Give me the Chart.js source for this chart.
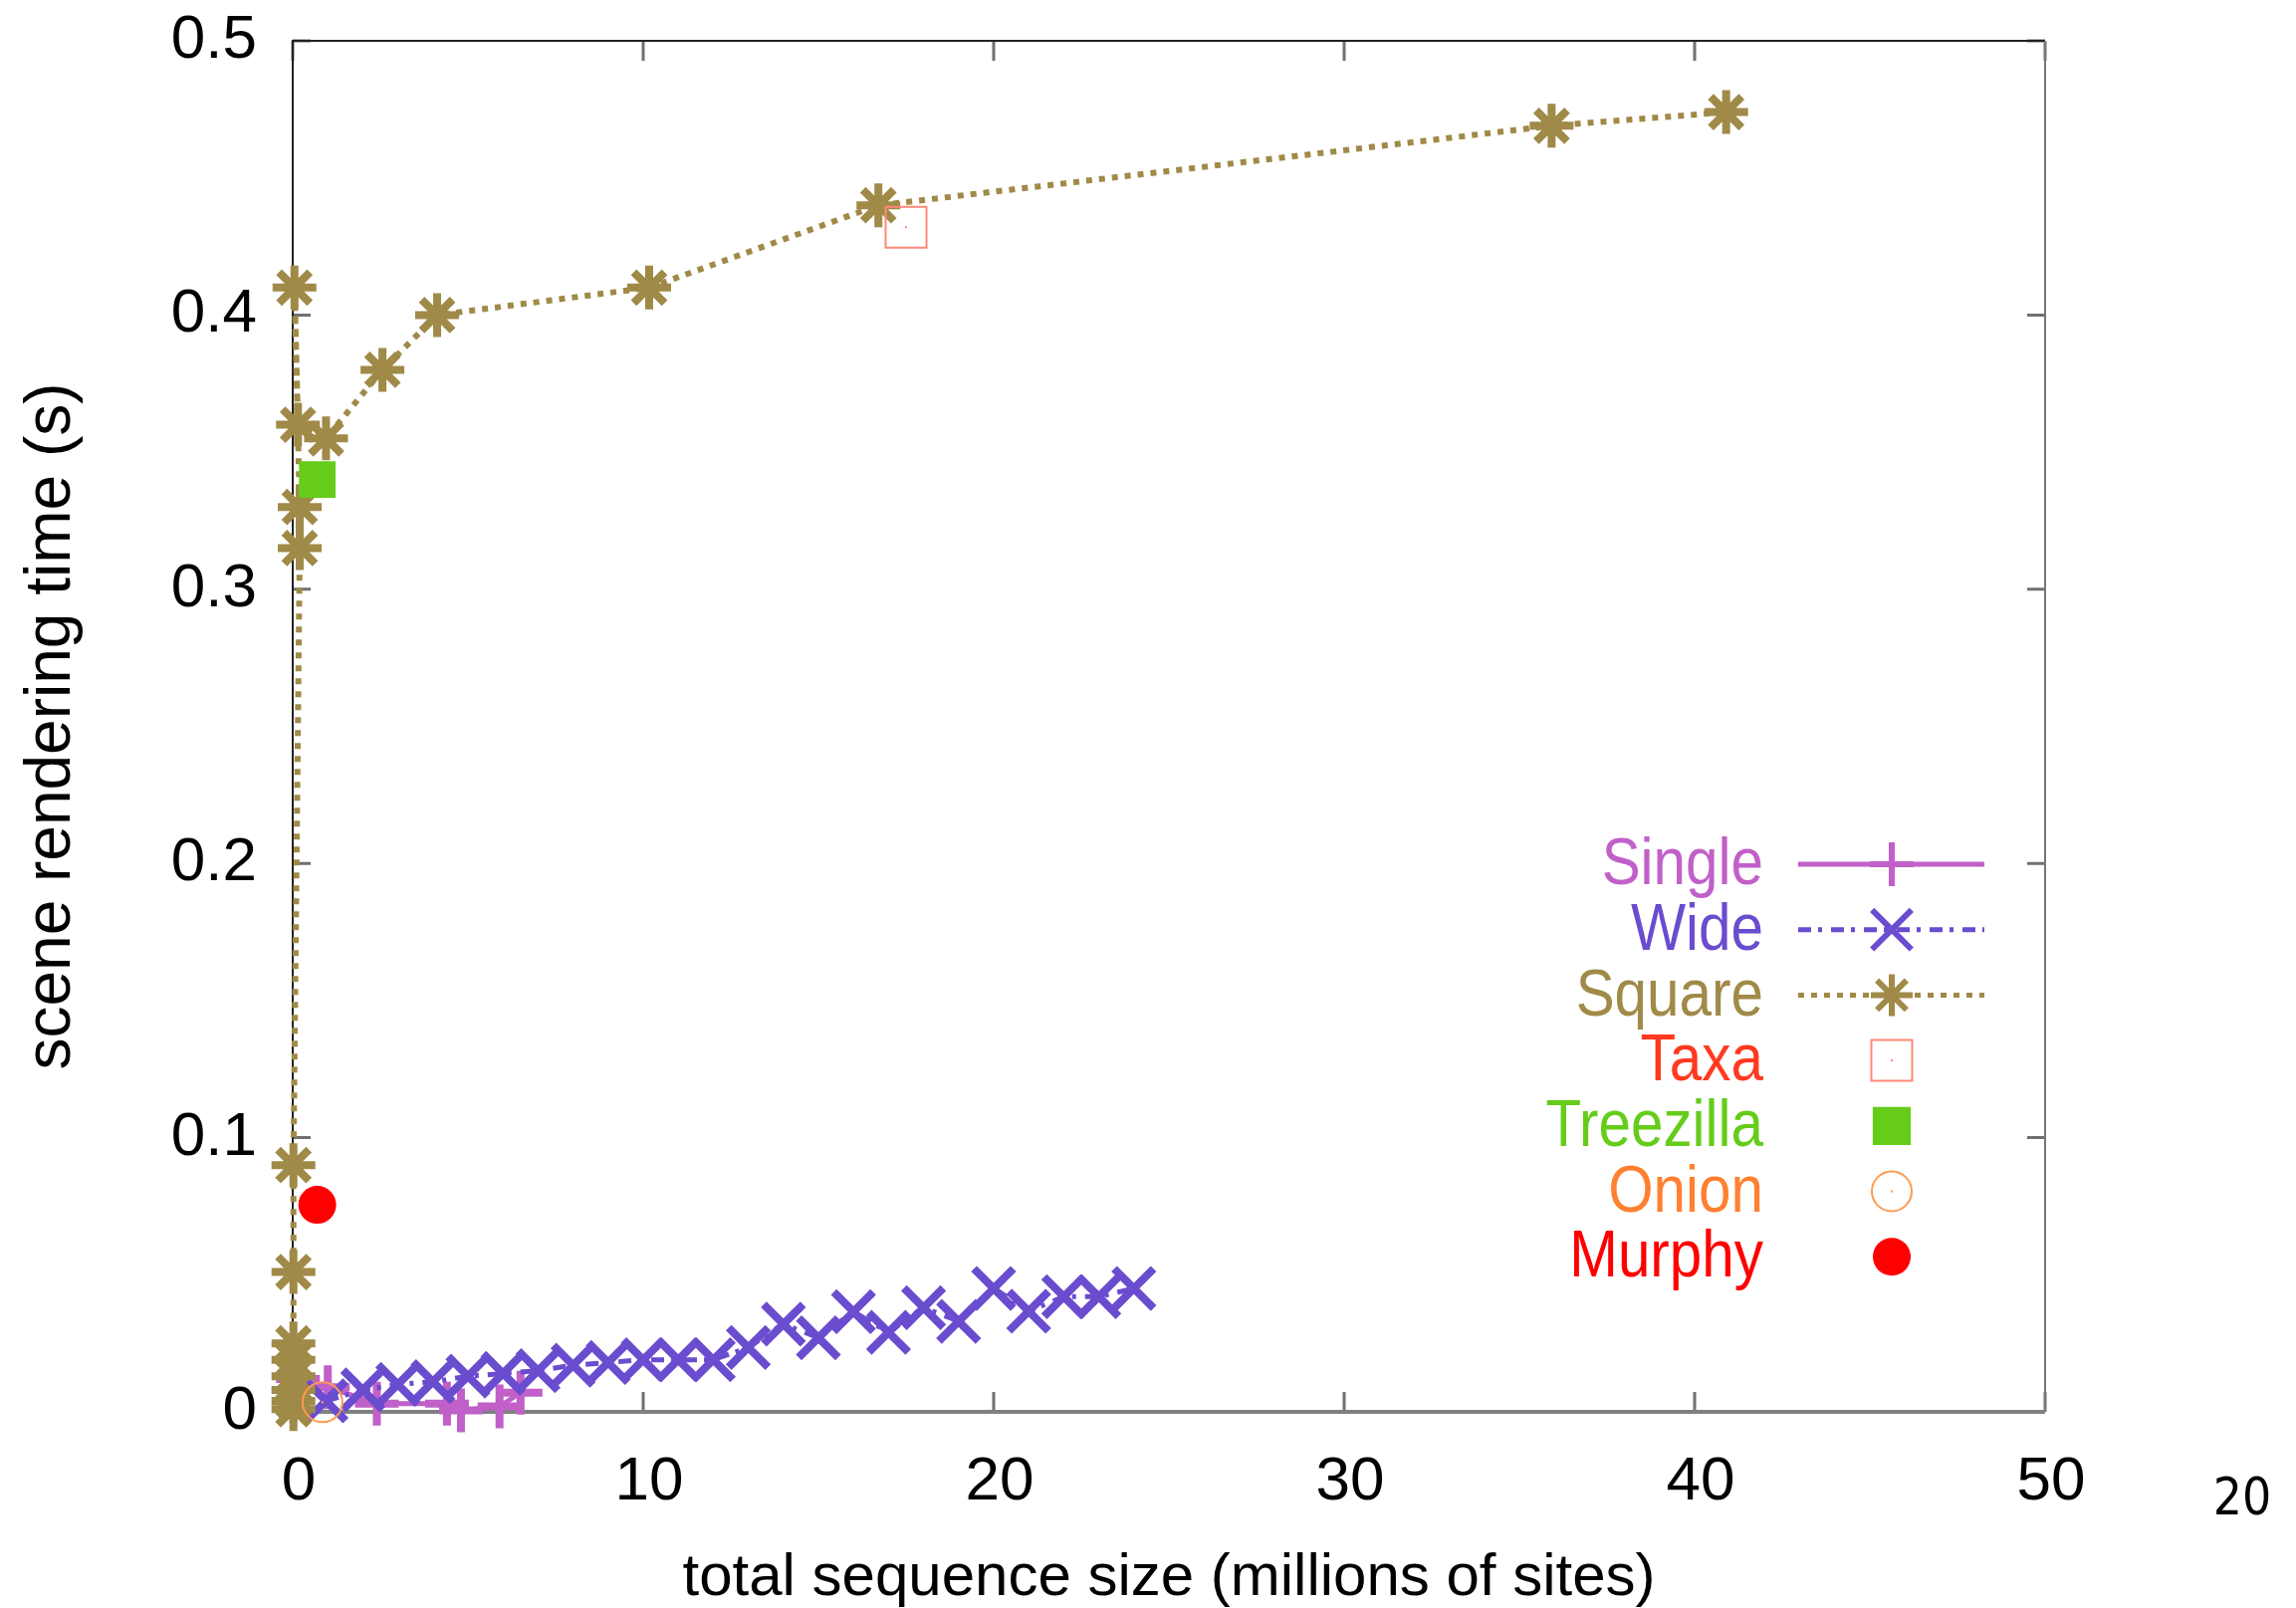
<!DOCTYPE html>
<html>
<head>
<meta charset="utf-8">
<script src="https://cdn.jsdelivr.net/npm/chart.js@4.4.1/dist/chart.umd.min.js"></script>
<style>
  html, body { margin: 0; padding: 0; background: #fff; }
  #wrap { width: 2306px; height: 1615px; }
</style>
</head>
<body>
<div id="wrap"><canvas id="renderChart" width="2306" height="1615"></canvas></div>
<script>
// values (x: millions of sites, y: seconds)
const singleX = [0.15, 1.0, 2.4, 4.4, 4.8, 5.9, 6.5];
const singleY = [0.012, 0.009, 0.003, 0.003, 0.0005, 0.002, 0.007];

const wideX = [0.95, 2, 3, 4, 5, 6, 7, 8, 9, 10, 11, 12, 13, 14, 15, 16, 17, 18, 19, 20, 21, 22, 23, 24];
const wideY = [0.004, 0.008, 0.010, 0.011, 0.013, 0.014, 0.015, 0.017, 0.018, 0.019, 0.019, 0.019,
               0.0235, 0.032, 0.027, 0.0365, 0.029, 0.038, 0.033, 0.045, 0.0367, 0.042, 0.042, 0.045];

const squareX = [0.02, 0.02, 0.02, 0.02, 0.02, 0.02, 0.02, 0.02, 0.2, 0.2, 0.05, 0.15, 0.95, 2.56, 4.12, 10.17, 16.71, 35.92, 40.9];
const squareY = [0.001, 0.004, 0.008, 0.013, 0.019, 0.025, 0.051, 0.09, 0.315, 0.33, 0.41, 0.36, 0.355, 0.38, 0.40, 0.41, 0.44, 0.469, 0.474];

const taxaX = [17.5];      const taxaY = [0.432];
const treezillaX = [0.7];  const treezillaY = [0.34];
const onionX = [0.85];     const onionY = [0.0035];
const murphyX = [0.7];     const murphyY = [0.0755];

const xTickLabels = ['0', '10', '20', '30', '40', '50'];
const yTickLabels = ['0', '0.1', '0.2', '0.3', '0.4', '0.5'];

const legendNames = ['Single', 'Wide', 'Square', 'Taxa', 'Treezilla', 'Onion', 'Murphy'];
const legendTextColors = ['#c060c8', '#6a4ccf', '#a08a48', '#ff3a20', '#66cc1a', '#ff8030', '#ff0000'];

const FONT = "'Liberation Sans', Arial, sans-serif";

function pts(xs, ys) {
    return xs.map((x, i) => ({ x: x, y: ys[i] }));
}

// small marker painter for the hand-drawn legend
function drawMarker(ctx, style, x, y, r, color, fill) {
    ctx.save();
    ctx.strokeStyle = color;
    ctx.fillStyle = color;
    ctx.beginPath();
    if (style === 'cross' || style === 'star') {
        ctx.moveTo(x - r, y); ctx.lineTo(x + r, y);
        ctx.moveTo(x, y - r); ctx.lineTo(x, y + r);
    }
    if (style === 'crossRot' || style === 'star') {
        const d = r * Math.SQRT1_2;
        ctx.moveTo(x - d, y - d); ctx.lineTo(x + d, y + d);
        ctx.moveTo(x - d, y + d); ctx.lineTo(x + d, y - d);
    }
    if (style === 'rect') {
        const s = r * Math.SQRT1_2;
        ctx.rect(x - s, y - s, 2 * s, 2 * s);
    }
    if (style === 'circle') {
        ctx.arc(x, y, r, 0, Math.PI * 2);
    }
    if (fill) ctx.fill(); else ctx.stroke();
    ctx.restore();
}

const framePlugin = {
    id: 'frame',
    beforeDatasetsDraw(chart) {
        const { ctx, chartArea: a, scales } = chart;
        ctx.save();
        // ticks pointing inward on all four sides
        ctx.strokeStyle = '#707070';
        ctx.lineWidth = 3;
        ctx.beginPath();
        scales.x.ticks.forEach(t => {
            const px = scales.x.getPixelForValue(t.value);
            ctx.moveTo(px, a.bottom); ctx.lineTo(px, a.bottom - 20);
            ctx.moveTo(px, a.top); ctx.lineTo(px, a.top + 20);
        });
        scales.y.ticks.forEach(t => {
            const py = scales.y.getPixelForValue(t.value);
            ctx.moveTo(a.left, py); ctx.lineTo(a.left + 18, py);
            ctx.moveTo(a.right, py); ctx.lineTo(a.right - 18, py);
        });
        ctx.stroke();
        // border
        ctx.strokeStyle = '#222';
        ctx.lineWidth = 2;
        ctx.beginPath();
        ctx.moveTo(a.left, a.bottom);
        ctx.lineTo(a.left, a.top);
        ctx.lineTo(a.right, a.top);
        ctx.stroke();
        ctx.strokeStyle = '#777';
        ctx.beginPath();
        ctx.moveTo(a.right, a.top);
        ctx.lineTo(a.right, a.bottom);
        ctx.stroke();
        ctx.strokeStyle = '#808080';
        ctx.lineWidth = 4;
        ctx.beginPath();
        ctx.moveTo(a.left, a.bottom);
        ctx.lineTo(a.right, a.bottom);
        ctx.stroke();
        ctx.restore();
    },
    afterDatasetsDraw(chart) {
        // tiny centre dots of the open Taxa / Onion markers
        const ctx = chart.ctx;
        ctx.save();
        [[3, '#ff8878'], [5, '#ff9a50']].forEach(([idx, col]) => {
            chart.getDatasetMeta(idx).data.forEach(p => {
                ctx.fillStyle = col;
                ctx.fillRect(p.x - 1, p.y - 1, 2, 2);
            });
        });
        ctx.restore();
    },
    afterDraw(chart) {
        const { ctx, chartArea: a } = chart;
        ctx.save();
        const textRight = a.right - 283;
        const lineL = a.right - 248, lineR = a.right - 61, mx = a.right - 154;
        const row0 = a.bottom - 550, rowH = 65.7;
        const samples = [
            { line: [], mk: 'cross', col: '#c060c8', r: 22, fill: false, lw: 6 },
            { line: [13, 7, 4, 9], mk: 'crossRot', col: '#6a4ccf', r: 28, fill: false, lw: 6 },
            { line: [6, 7], mk: 'star', col: '#a08a48', r: 21, fill: false, lw: 6 },
            { line: null, mk: 'rect', col: '#ff8878', r: 29, fill: false, lw: 2 },
            { line: null, mk: 'rect', col: '#66cc1a', r: 27, fill: true, lw: 2 },
            { line: null, mk: 'circle', col: '#ff9a50', r: 20, fill: false, lw: 2 },
            { line: null, mk: 'circle', col: '#ff0000', r: 19, fill: true, lw: 2 }
        ];
        legendNames.forEach((name, i) => {
            const y = row0 + i * rowH;
            ctx.save();
            ctx.translate(textRight, y);
            ctx.scale(0.885, 1);
            ctx.font = '66px ' + FONT;
            ctx.fillStyle = legendTextColors[i];
            ctx.textAlign = 'right';
            ctx.textBaseline = 'middle';
            ctx.fillText(name, 0, 2);
            ctx.restore();
            const s = samples[i];
            if (s.line) {
                ctx.save();
                ctx.strokeStyle = s.col;
                ctx.lineWidth = 5;
                ctx.setLineDash(s.line);
                ctx.beginPath();
                ctx.moveTo(lineL, y); ctx.lineTo(lineR, y);
                ctx.stroke();
                ctx.restore();
            }
            ctx.lineWidth = s.lw;
            drawMarker(ctx, s.mk, mx, y, s.r, s.col, s.fill);
            if (i === 3 || i === 5) {
                ctx.fillStyle = s.col;
                ctx.fillRect(mx - 1, y - 1, 2, 2);
            }
        });
        // stray label below the right edge
        ctx.fillStyle = '#000';
        ctx.font = "52px 'DejaVu Sans', sans-serif";
        ctx.textAlign = 'center';
        ctx.textBaseline = 'middle';
        ctx.save();
        ctx.translate(a.right + 198, a.bottom + 89);
        ctx.scale(0.885, 1);
        ctx.fillText('20', 0, 0);
        ctx.restore();
        ctx.restore();
    }
};

const ctx = document.getElementById('renderChart').getContext('2d');

new Chart(ctx, {
    type: 'scatter',
    data: {
        datasets: [
            {
                label: 'Single', data: pts(singleX, singleY), order: 7,
                showLine: true, borderColor: '#c060c8', borderWidth: 5,
                pointStyle: 'cross', pointRadius: 22, pointBorderWidth: 8,
                pointBorderColor: '#c060c8', backgroundColor: '#c060c8', clip: false
            },
            {
                label: 'Wide', data: pts(wideX, wideY), order: 6,
                showLine: true, borderColor: '#6a4ccf', borderWidth: 5, borderDash: [13, 7, 4, 9],
                pointStyle: 'crossRot', pointRadius: 28, pointBorderWidth: 8,
                pointBorderColor: '#6a4ccf', backgroundColor: '#6a4ccf', clip: false
            },
            {
                label: 'Square', data: pts(squareX, squareY), order: 5,
                showLine: true, borderColor: '#a08a48', borderWidth: 6, borderDash: [6, 7],
                pointStyle: 'star', pointRadius: 22, pointBorderWidth: 8,
                pointBorderColor: '#a08a48', backgroundColor: '#a08a48', clip: false
            },
            {
                label: 'Taxa', data: pts(taxaX, taxaY), order: 4,
                pointStyle: 'rect', pointRadius: 29, pointBorderWidth: 2,
                pointBorderColor: '#ff8878', pointBackgroundColor: 'rgba(0,0,0,0)', clip: false
            },
            {
                label: 'Treezilla', data: pts(treezillaX, treezillaY), order: 3,
                pointStyle: 'rect', pointRadius: 26, pointBorderWidth: 0,
                pointBorderColor: '#66cc1a', pointBackgroundColor: '#66cc1a', clip: false
            },
            {
                label: 'Onion', data: pts(onionX, onionY), order: 2,
                pointStyle: 'circle', pointRadius: 20, pointBorderWidth: 2,
                pointBorderColor: '#ff9a50', pointBackgroundColor: 'rgba(0,0,0,0)', clip: false
            },
            {
                label: 'Murphy', data: pts(murphyX, murphyY), order: 1,
                pointStyle: 'circle', pointRadius: 19, pointBorderWidth: 0,
                pointBorderColor: '#ff0000', pointBackgroundColor: '#ff0000', clip: false
            }
        ]
    },
    options: {
        responsive: false,
        animation: false,
        devicePixelRatio: 1,
        layout: { padding: { top: 41, right: 252, left: 0, bottom: 0 } },
        scales: {
            x: {
                type: 'linear', min: 0, max: 50,
                grid: { display: false }, border: { display: false },
                ticks: {
                    stepSize: 10, padding: 26, color: '#000', labelOffset: 6,
                    font: { family: FONT, size: 62 },
                    callback: (v, i) => xTickLabels[i]
                },
                title: {
                    display: true, text: 'total sequence size (millions of sites)',
                    color: '#000', font: { family: FONT, size: 60, lineHeight: 1.0 }, padding: { top: 0, bottom: 0 }
                },
                afterFit(scale) { scale.height = 197; scale.paddingLeft = 0; scale.paddingRight = 0; }
            },
            y: {
                type: 'linear', min: 0, max: 0.5,
                grid: { display: false }, border: { display: false },
                ticks: {
                    stepSize: 0.1, padding: 28, color: '#000',
                    font: { family: FONT, size: 62 },
                    callback: (v, i) => yTickLabels[i]
                },
                title: {
                    display: true, text: 'scene rendering time (s)',
                    color: '#000', font: { family: FONT, size: 64 }, padding: { top: 14, bottom: 0 }
                },
                afterFit(scale) { scale.width = 294; scale.paddingTop = 0; scale.paddingBottom = 0; }
            }
        },
        plugins: {
            legend: { display: false },
            tooltip: { enabled: false }
        }
    },
    plugins: [framePlugin]
});
</script>
</body>
</html>
